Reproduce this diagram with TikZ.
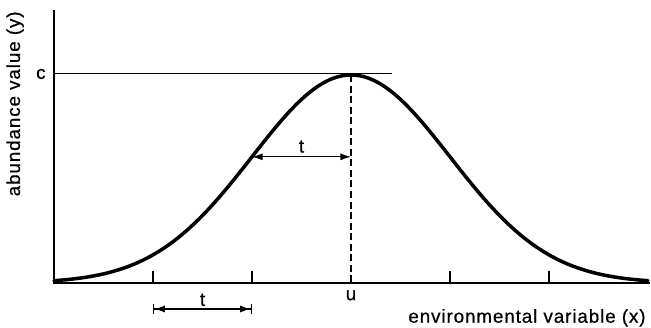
\documentclass[tikz,border=0pt]{standalone}
\usepackage{fontspec}
\setmainfont[LetterSpace=5,FakeBold=0.6]{Liberation Sans}
\usetikzlibrary{arrows.meta,positioning}

\begin{document}
\begin{tikzpicture}[x=2.97cm,y=6.24cm,
  axisline/.style={line width=1.8pt},
  tickline/.style={line width=1.3pt},
  dimline/.style={line width=1.1pt,{Latex[length=9pt,width=6pt]}-{Latex[length=9pt,width=6pt]}},
  lbl/.style={font=\fontsize{16}{19}\selectfont,inner sep=1pt}]
\useasboundingbox (-0.5455,-0.2163) rectangle (6.0303,1.3606);

% axes
\coordinate (O) at (0,0);
\coordinate (ytop) at (0,1.3125);
\coordinate (xend) at (6.02,0);
\draw[axisline] (ytop) -- (O) -- (xend);

% level c and mode u
\coordinate (c0) at (0,1.005);
\coordinate (c1) at (3.41,1.005);
\draw[line width=0.9pt] (c0) -- (c1);
\node[lbl,left=6pt] (clab) at (c0) {c};
\coordinate (peak) at (3,1);
\draw[line width=1pt,dashed,dash pattern=on 6pt off 3pt] (peak) -- (3,0);

% ticks
\foreach \k in {1,2,4,5}
  \draw[tickline] (\k,0) -- (\k,0.06);
\node[lbl,below=5pt] (ulab) at (3,0) {u};

% response curve
\draw[line width=3pt,line cap=round,domain=0:6,samples=120,smooth]
  plot (\x,{exp(-(\x-3)^2/2)});

% tolerance t
\coordinate (tl) at (2,0.6065);
\coordinate (tr) at (3,0.6065);
\draw[dimline] (tl) -- (tr) node[lbl,midway,above=2pt] (tup) {t};
\coordinate (bl) at (1,-0.125);
\coordinate (br) at (2,-0.125);
\draw[dimline,{Bar[width=9pt]Latex[length=9pt,width=6pt]}-{Latex[length=9pt,width=6pt]Bar[width=9pt]}] (bl) -- (br) node[lbl,midway,above=1pt] (tlow) {t};

% axis titles
\node[lbl,anchor=south east] (xlab) at (5.99,-0.2163) {environmental variable (x)};
\node[lbl,rotate=90,anchor=north east] (ylab) at (-0.495,1.3125) {abundance value (y)};
\end{tikzpicture}
\end{document}
